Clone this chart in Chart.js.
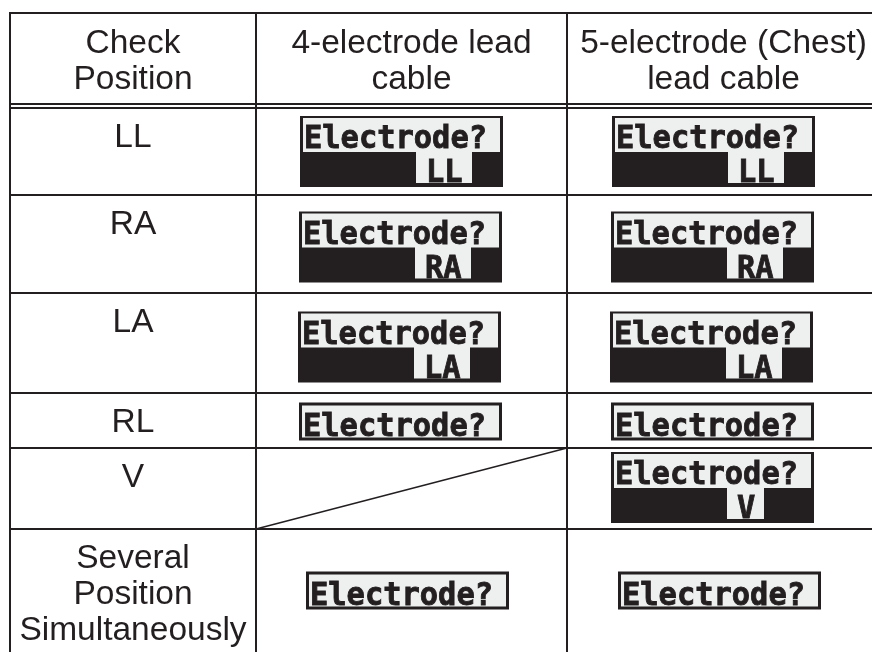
<!DOCTYPE html>
<html>
<head>
<meta charset="utf-8">
<title>Electrode check positions</title>
<script src="https://cdn.jsdelivr.net/npm/chart.js@4.4.1/dist/chart.umd.min.js"></script>
<style>
    html, body { margin: 0; padding: 0; background: #fff; }
    #wrap { width: 872px; height: 652px; position: relative; }
</style>
</head>
<body>
<div id="wrap"><canvas id="tableChart"></canvas></div>
<script>
// Table content
const headers = ['Check\nPosition', '4-electrode lead\ncable', '5-electrode (Chest)\nlead cable'];
const positions = ['LL', 'RA', 'LA', 'RL', 'V', 'Several\nPosition\nSimultaneously'];
// Second display line for each position ('' = only "Electrode?", null = not applicable)
const cable4 = ['LL', 'RA', 'LA', '', null, ''];
const cable5 = ['LL', 'RA', 'LA', '', 'V', ''];
const promptText = 'Electrode?';

// Layout in scale units (table grid edges)
const colEdges = [10, 256, 567, 880];
const rowEdges = [13, 106, 195, 293, 393, 448, 529, 652];
const boxShiftX = [-10, -11, -12, -11, -11, -4];
const boxShiftY = [0, 3, 4, 1, -1, 0];

const INK = '#231f20';
const LCD_BG = '#eef0ef';
const TEXT_FONT = '"Liberation Sans", Arial, sans-serif';
const LCD_FONT = '"DejaVu Sans Mono", monospace';

// Blocky LCD text: bold mono, slightly condensed and thickened
function lcdText(ctx, text, x, y, k) {
    ctx.save();
    ctx.translate(x, y);
    ctx.scale(0.965, 1);
    ctx.font = 'bold ' + (31.5 * k) + 'px ' + LCD_FONT;
    ctx.textAlign = 'left';
    ctx.textBaseline = 'alphabetic';
    ctx.fillStyle = INK;
    ctx.strokeStyle = INK;
    ctx.lineWidth = 0.9 * k;
    ctx.lineJoin = 'miter';
    ctx.fillText(text, 0, 0);
    ctx.strokeText(text, 0, 0);
    ctx.restore();
}

// Draw one LCD readout, positions in scale units converted by px()
function drawLcd(ctx, px, py, k, left, top, label) {
    const W = 203;
    ctx.save();
    if (label) {
        const H = 71;
        ctx.fillStyle = INK;
        ctx.fillRect(px(left), py(top), W * k, H * k);
        ctx.fillStyle = LCD_BG;
        ctx.fillRect(px(left + 3), py(top + 2), (W - 6) * k, 34 * k);
        ctx.fillRect(px(left + 116), py(top + 35), (18 + 19 * label.length) * k, 32 * k);
        lcdText(ctx, promptText, px(left + 4), py(top + 32), k);
        lcdText(ctx, label, px(left + 126), py(top + 66), k);
    } else {
        const H = 38;
        ctx.fillStyle = INK;
        ctx.fillRect(px(left), py(top), W * k, H * k);
        ctx.fillStyle = LCD_BG;
        ctx.fillRect(px(left + 3), py(top + 3), (W - 6) * k, (H - 6) * k);
        lcdText(ctx, promptText, px(left + 4), py(top + 33), k);
    }
    ctx.restore();
}

const tablePlugin = {
    id: 'tablePlugin',
    afterDraw(chart) {
        const ctx = chart.ctx;
        const xs = chart.scales.x;
        const ys = chart.scales.y;
        const px = v => xs.getPixelForValue(v);
        const py = v => ys.getPixelForValue(v);
        const k = Math.abs(px(1) - px(0));

        ctx.save();
        ctx.strokeStyle = INK;
        ctx.lineWidth = 2 * k;
        const hLine = (y, x0, x1) => {
            ctx.beginPath();
            ctx.moveTo(px(x0), py(y));
            ctx.lineTo(px(x1), py(y));
            ctx.stroke();
        };
        const vLine = (x, y0, y1) => {
            ctx.beginPath();
            ctx.moveTo(px(x), py(y0));
            ctx.lineTo(px(x), py(y1));
            ctx.stroke();
        };
        const left = colEdges[0], right = colEdges[colEdges.length - 1];
        const top = rowEdges[0], bottom = rowEdges[rowEdges.length - 1];

        // Horizontal rules: top border, double rule under header, row rules
        hLine(top, left - 1, right);
        hLine(rowEdges[1] - 2, left, right);
        hLine(rowEdges[1] + 2, left, right);
        for (let i = 2; i < rowEdges.length - 1; i++) {
            hLine(rowEdges[i], left, right);
        }
        // Vertical rules
        colEdges.forEach(x => vLine(x, top, bottom + 10));

        const textFont = (33.5 * k) + 'px ' + TEXT_FONT;

        // Header text
        ctx.fillStyle = INK;
        ctx.textAlign = 'center';
        ctx.textBaseline = 'alphabetic';
        ctx.font = textFont;
        headers.forEach((h, c) => {
            const cx = (colEdges[c] + colEdges[c + 1]) / 2;
            h.split('\n').forEach((line, j) => {
                ctx.fillText(line, px(cx), py(top + 40 + j * 36));
            });
        });

        // Body rows
        const cols = [cable4, cable5];
        positions.forEach((label, r) => {
            const rTop = r === 0 ? rowEdges[1] + 2 : rowEdges[r + 1];
            const rBot = rowEdges[r + 2];
            const cx0 = (colEdges[0] + colEdges[1]) / 2;
            ctx.fillStyle = INK;
            ctx.textAlign = 'center';
            ctx.font = textFont;
            label.split('\n').forEach((line, j) => {
                ctx.fillText(line, px(cx0), py(rTop + 39 + j * 36));
            });

            cols.forEach((series, c) => {
                const value = series[r];
                const cl = colEdges[c + 1], cr = colEdges[c + 2];
                if (value === null) {
                    // not applicable: diagonal strike through the cell
                    ctx.save();
                    ctx.lineWidth = 1.5 * k;
                    ctx.beginPath();
                    ctx.moveTo(px(cr), py(rTop));
                    ctx.lineTo(px(cl), py(rBot));
                    ctx.stroke();
                    ctx.restore();
                    return;
                }
                const h = value ? 71 : 38;
                const bx = (cl + cr) / 2 - 101.5 + boxShiftX[r];
                const by = (rTop + rBot) / 2 - h / 2 + boxShiftY[r];
                drawLcd(ctx, px, py, k, bx, by, value);
            });
        });
        ctx.restore();
    }
};

const chart = new Chart(document.getElementById('tableChart').getContext('2d'), {
    type: 'scatter',
    data: { datasets: [{ data: [], pointRadius: 0 }] },
    options: {
        responsive: true,
        maintainAspectRatio: false,
        animation: false,
        layout: { padding: 0 },
        plugins: { legend: { display: false }, tooltip: { enabled: false } },
        scales: {
            x: { type: 'linear', min: 0, max: 872, display: false },
            y: { type: 'linear', min: 0, max: 652, reverse: true, display: false }
        }
    },
    plugins: [tablePlugin]
});
</script>
</body>
</html>
